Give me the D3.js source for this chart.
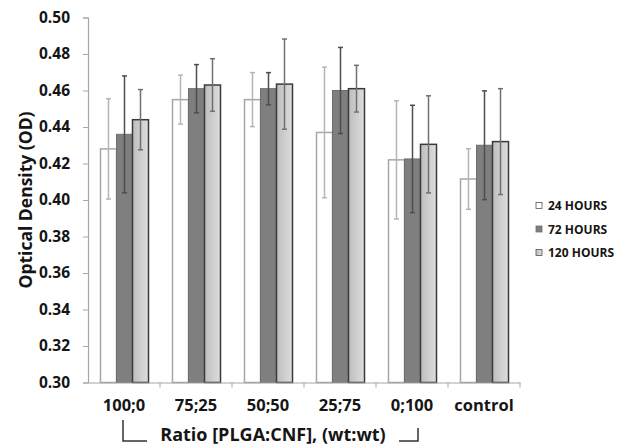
<!DOCTYPE html>
<html>
<head>
<meta charset="utf-8">
<script src="https://cdn.jsdelivr.net/npm/d3@7"></script>
<style>
  body { margin: 0; background: #fff; }
  text { font-family: "Open Sans", "Liberation Sans", sans-serif; font-weight: bold; fill: #151515; }
</style>
</head>
<body>
<div id="chart"></div>
<script>
// chart values
const categories = ['100;0', '75;25', '50;50', '25;75', '0;100', 'control']
const seriesNames = ['24 HOURS', '72 HOURS', '120 HOURS']
const hours24 = [0.428, 0.455, 0.455, 0.437, 0.422, 0.4115]
const hours72 = [0.436, 0.461, 0.461, 0.460, 0.4225, 0.430]
const hours120 = [0.444, 0.463, 0.4635, 0.461, 0.4305, 0.432]
const err24 = [0.0275, 0.0134, 0.0148, 0.0358, 0.0324, 0.0166]
const err72 = [0.032, 0.0132, 0.0088, 0.0236, 0.0294, 0.0298]
const err120 = [0.0165, 0.0144, 0.0247, 0.0128, 0.0266, 0.029]
const yTicks = [0.30, 0.32, 0.34, 0.36, 0.38, 0.40, 0.42, 0.44, 0.46, 0.48, 0.50]

const w = 630, h = 447
const padL = 88, padR = 520, padT = 17.5, padB = 382.5

const values = [hours24, hours72, hours120]
const errors = [err24, err72, err120]
const rows = []
categories.forEach((c, i) => {
  seriesNames.forEach((s, j) => {
    rows.push({cat: c, series: s, idx: j, v: values[j][i], e: errors[j][i]})
  })
})

const svg = d3.select('#chart').append('svg')
  .attr('width', w)
  .attr('height', h)

const defs = svg.append('defs')
const grad = defs.append('linearGradient').attr('id', 'lightGrad')
  .attr('x1', '0%').attr('x2', '100%').attr('y1', '0%').attr('y2', '0%')
grad.append('stop').attr('offset', '0%').attr('stop-color', '#bdbdbd')
grad.append('stop').attr('offset', '100%').attr('stop-color', '#dedede')

const x0 = d3.scaleBand().domain(categories).range([padL, padR])
const x1 = d3.scaleBand().domain(seriesNames).range([12.5, 60.5])
const y = d3.scaleLinear().domain([0.30, 0.50]).range([padB, padT])

const fills = ['#ffffff', '#7f7f7f', 'url(#lightGrad)']
const strokes = ['#a6a6a6', '#6e6e6e', '#3a3a3a']
const errColors = ['#b5b5b5', '#4d4d4d', '#6f6f6f']

// bars
svg.append('g').selectAll('rect')
  .data(rows)
  .enter()
  .append('rect')
  .attr('x', d => x0(d.cat) + x1(d.series))
  .attr('y', d => y(d.v))
  .attr('width', x1.bandwidth())
  .attr('height', d => y(0.30) - y(d.v))
  .attr('fill', d => fills[d.idx])
  .attr('stroke', d => strokes[d.idx])
  .attr('stroke-width', d => d.idx === 1 ? 1 : 1.5)

// error bars
const eg = svg.append('g').selectAll('g')
  .data(rows)
  .enter()
  .append('g')
  .attr('stroke', d => errColors[d.idx])
  .attr('stroke-width', 1.5)

eg.append('line')
  .attr('x1', d => x0(d.cat) + x1(d.series) + x1.bandwidth() / 2)
  .attr('x2', d => x0(d.cat) + x1(d.series) + x1.bandwidth() / 2)
  .attr('y1', d => y(d.v + d.e))
  .attr('y2', d => y(d.v - d.e))

eg.selectAll('line.cap')
  .data(d => [d.v + d.e, d.v - d.e].map(v => ({d: d, v: v})))
  .enter()
  .append('line')
  .attr('class', 'cap')
  .attr('x1', p => x0(p.d.cat) + x1(p.d.series) + x1.bandwidth() / 2 - 2.5)
  .attr('x2', p => x0(p.d.cat) + x1(p.d.series) + x1.bandwidth() / 2 + 2.5)
  .attr('y1', p => y(p.v))
  .attr('y2', p => y(p.v))

// y axis
const yAxis = svg.append('g')
  .attr('transform', `translate(${padL},0)`)
  .call(d3.axisLeft(y).tickValues(yTicks).tickFormat(d3.format('.2f')).tickSize(5).tickPadding(13))
yAxis.select('.domain').attr('stroke', '#a6a6a6').attr('stroke-width', 1.2)
yAxis.selectAll('.tick line').attr('stroke', '#a6a6a6')
yAxis.selectAll('.tick text')
  .style('font-size', '15.5px')
  .style('font-family', '"Open Sans", sans-serif')
  .style('font-weight', 'bold')
  .attr('fill', '#151515')

// x axis
const xAxis = svg.append('g')
  .attr('transform', `translate(0,${padB})`)
  .call(d3.axisBottom(x0).tickSize(0).tickPadding(17))
xAxis.select('.domain').attr('stroke', '#a6a6a6').attr('stroke-width', 1.2)
xAxis.selectAll('.tick text')
  .style('font-size', '16.5px')
  .style('font-family', '"Open Sans", sans-serif')
  .style('font-weight', 'bold')
  .attr('fill', '#151515')

// ticks between categories
svg.append('g').selectAll('line')
  .data(categories)
  .enter()
  .append('line')
  .attr('x1', d => x0(d) + x0.bandwidth())
  .attr('x2', d => x0(d) + x0.bandwidth())
  .attr('y1', padB)
  .attr('y2', padB + 5)
  .attr('stroke', '#a6a6a6')

// axis titles
svg.append('text')
  .attr('transform', `translate(32,200) rotate(-90)`)
  .attr('text-anchor', 'middle')
  .style('font-size', '17.5px')
  .text('Optical Density (OD)')

svg.append('text')
  .attr('x', 273)
  .attr('y', 441)
  .attr('text-anchor', 'middle')
  .style('font-size', '18px')
  .text('Ratio [PLGA:CNF], (wt:wt)')

// bracket lines under the ratio categories
const firstC = x0(categories[0]) + x0.bandwidth() / 2
const lastC = x0(categories[4]) + x0.bandwidth() / 2
svg.append('path')
  .attr('d', `M${firstC - 1},420 V441 H${firstC + 23}`)
  .attr('fill', 'none').attr('stroke', '#333').attr('stroke-width', 1.5)
svg.append('path')
  .attr('d', `M${lastC - 13},441 H${lastC + 6} V428`)
  .attr('fill', 'none').attr('stroke', '#333').attr('stroke-width', 1.5)

// legend
const legFills = ['#ffffff', '#7f7f7f', 'url(#lightGrad)']
const legend = svg.append('g').selectAll('g')
  .data(seriesNames)
  .enter()
  .append('g')
  .attr('transform', (d, i) => `translate(536,${205.5 + i * 23.5})`)
legend.append('rect')
  .attr('x', 0).attr('y', -3)
  .attr('width', 6).attr('height', 6)
  .attr('fill', (d, i) => legFills[i])
  .attr('stroke', (d, i) => i === 1 ? '#6e6e6e' : '#555')
  .attr('stroke-width', 0.8)
legend.append('text')
  .attr('x', 12)
  .attr('y', 4.5)
  .style('font-size', '12px')
  .text(d => d)
</script>
</body>
</html>
